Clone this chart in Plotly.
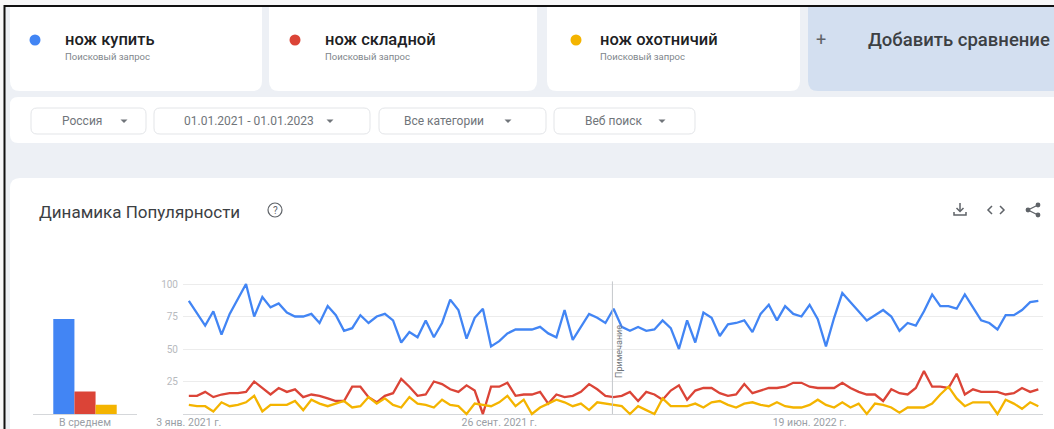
import numpy as np
import pandas as pd
import plotly.graph_objects as go

W, H = 1054, 429

# Weekly interest, 3 Jan 2021 .. 1 Jan 2023 (Россия, веб-поиск)
week_start = "2021-01-03"
n_weeks = 105

kupit = [87, 78, 68, 79, 61, 77, 88, 100, 75, 90,
         82, 85, 78, 75, 75, 77, 70, 83, 76, 64,
         66, 76, 70, 75, 77, 72, 55, 63, 59, 72,
         59, 70, 88, 80, 58, 74, 81, 52, 56, 62,
         65, 65, 65, 67, 62, 59, 80, 57, 67, 77,
         74, 70, 81, 67, 64, 67, 64, 65, 72, 66,
         50, 72, 55, 78, 74, 60, 69, 70, 72, 63,
         77, 84, 72, 83, 77, 75, 84, 73, 52, 74,
         93, 86, 79, 72, 76, 80, 75, 64, 70, 68,
         79, 92, 83, 83, 81, 92, 82, 72, 70, 65,
         76, 76, 80, 86, 87]

skladnoy = [14, 14, 17, 13, 15, 16, 16, 17, 25, 20,
            15, 20, 17, 19, 13, 15, 14, 12, 10, 10,
            21, 21, 13, 9, 14, 16, 27, 21, 14, 15,
            25, 23, 19, 17, 22, 18, 0, 21, 21, 24,
            14, 15, 15, 17, 8, 15, 13, 14, 17, 23,
            19, 14, 13, 14, 17, 10, 17, 15, 11, 18,
            22, 11, 18, 20, 20, 16, 14, 15, 23, 16,
            18, 20, 20, 21, 24, 24, 21, 20, 20, 20,
            24, 20, 17, 15, 15, 10, 19, 16, 15, 20,
            33, 21, 21, 20, 31, 15, 19, 17, 17, 17,
            15, 16, 20, 17, 19]

okhotnichiy = [7, 6, 6, 2, 9, 6, 7, 9, 14, 2,
               7, 7, 7, 10, 3, 11, 8, 6, 8, 10,
               5, 6, 13, 8, 12, 7, 5, 13, 8, 7,
               5, 11, 7, 6, 0, 8, 7, 6, 9, 14,
               6, 11, 0, 5, 8, 11, 9, 6, 8, 3,
               9, 8, 7, 6, 0, 6, 3, 0, 12, 6,
               6, 6, 8, 5, 9, 10, 7, 5, 8, 9,
               7, 6, 9, 6, 5, 5, 7, 11, 7, 5,
               9, 5, 8, 0, 8, 7, 5, 1, 5, 5,
               5, 8, 15, 21, 12, 6, 9, 9, 9, 0,
               11, 8, 4, 9, 6]

terms = ["нож купить", "нож складной", "нож охотничий"]
term_colors = ["#4285f4", "#db4437", "#f4b400"]
term_values = [kupit, skladnoy, okhotnichiy]

y_tick_vals = [25, 50, 75, 100]
x_tick_dates = ["2021-01-03", "2021-09-26", "2022-06-19"]
x_tick_text = ["3 янв. 2021 г.", "26 сент. 2021 г.", "19 июн. 2022 г."]
avg_label = "В среднем"
note_date = "2022-01-01"
note_text = "Примечание"

filters = ["Россия", "01.01.2021 - 01.01.2023", "Все категории", "Веб поиск"]

FONT = "Roboto, Arial, sans-serif"
PAGE_BG = "#edf0f5"
TEXT_DARK = "#202124"
TEXT_GREY = "#80868b"
ICON = "#5f6368"

weeks = pd.date_range(week_start, periods=n_weeks, freq="7D")


def px(x):
    return x / W


def py(y):
    return 1 - y / H


def rrect(x0, y0, x1, y1, r, fill, line=None, lw=0):
    p = lambda x, y: f"{px(x):.5f},{py(y):.5f}"
    path = (f"M {p(x0 + r, y0)} L {p(x1 - r, y0)} Q {p(x1, y0)} {p(x1, y0 + r)} "
            f"L {p(x1, y1 - r)} Q {p(x1, y1)} {p(x1 - r, y1)} "
            f"L {p(x0 + r, y1)} Q {p(x0, y1)} {p(x0, y1 - r)} "
            f"L {p(x0, y0 + r)} Q {p(x0, y0)} {p(x0 + r, y0)} Z")
    return dict(type="path", path=path, xref="paper", yref="paper",
                fillcolor=fill, line=dict(color=line or fill, width=lw),
                layer="below")


def pline(points, color=ICON, width=1.5):
    d = "M " + " L ".join(f"{px(x):.5f},{py(y):.5f}" for x, y in points)
    return dict(type="path", path=d, xref="paper", yref="paper",
                line=dict(color=color, width=width), layer="above")


def tri(cx, cy, color="#70757a"):
    d = (f"M {px(cx - 3.5):.5f},{py(cy - 1.5):.5f} L {px(cx + 3.5):.5f},{py(cy - 1.5):.5f} "
         f"L {px(cx):.5f},{py(cy + 2):.5f} Z")
    return dict(type="path", path=d, xref="paper", yref="paper",
                fillcolor=color, line=dict(color=color, width=0), layer="above")


def circle(cx, cy, r, fill=None, line=None, lw=1.2):
    return dict(type="circle", xref="paper", yref="paper",
                x0=px(cx - r), x1=px(cx + r), y0=py(cy + r), y1=py(cy - r),
                fillcolor=fill or "rgba(0,0,0,0)",
                line=dict(color=line or fill or ICON, width=lw if line else 0),
                layer="above")


def label(x, y, text, size, color, anchor="left", weight=None, angle=0):
    f = dict(family=FONT, size=size, color=color)
    if weight:
        f["weight"] = weight
    return dict(x=px(x), y=py(y), xref="paper", yref="paper", text=text,
                showarrow=False, xanchor=anchor, yanchor="middle", font=f,
                textangle=angle)


fig = go.Figure()

# weekly lines
for name, color, vals in zip(terms, term_colors, term_values):
    fig.add_trace(go.Scatter(x=weeks, y=vals, mode="lines", name=name,
                             line=dict(color=color, width=2.3),
                             xaxis="x", yaxis="y", hoverinfo="skip"))

# average bars
for name, color, vals in zip(terms, term_colors, term_values):
    fig.add_trace(go.Bar(x=[avg_label], y=[float(np.mean(vals))], name=name,
                         marker=dict(color=color, line=dict(width=0)),
                         xaxis="x2", yaxis="y2", hoverinfo="skip"))

shapes = []
annotations = []

# term cards
cards = [(10, 262), (269, 537), (547, 800)]
dot_x = [35, 295, 576]
text_x = [63, 323, 598]
for (x0, x1), dx, tx, name, color in zip(cards, dot_x, text_x, terms, term_colors):
    shapes.append(rrect(x0, -10, x1, 91, 10, "#ffffff"))
    shapes.append(circle(dx, 40, 5.5, fill=color))
    annotations.append(label(tx, 39, name, 16.5, TEXT_DARK, weight=500))
    annotations.append(label(tx, 56, "Поисковый запрос", 9.5, TEXT_GREY))
shapes.append(rrect(808, -10, 1070, 91, 10, "#d3dff0"))
annotations.append(label(814, 40, "+", 18, ICON))
annotations.append(label(866, 40, "Добавить сравнение", 18.5, "#3c4043", weight=500))

# filter bar
shapes.append(rrect(10, 97, 1070, 143, 8, "#ffffff"))
pills = [(31, 146), (154, 370), (379, 546), (554, 695)]
pill_text_x = [60, 182, 402, 583]
pill_arrow_x = [124, 330, 508, 662]
for (x0, x1), tx, ax, txt in zip(pills, pill_text_x, pill_arrow_x, filters):
    shapes.append(rrect(x0, 108, x1, 134, 6, "#ffffff", "#e3e5e8", 1))
    annotations.append(label(tx, 121, txt, 12, "#70757a"))
    shapes.append(tri(ax, 121))

# chart card
shapes.append(rrect(10, 178, 1070, 460, 10, "#ffffff"))
annotations.append(label(37, 212, "Динамика Популярности", 17, "#3c4043"))
shapes.append(circle(275, 210, 7, line=ICON, lw=1.2))
annotations.append(label(275, 210.5, "?", 10, ICON, anchor="center"))

# download icon
shapes.append(pline([(960, 203), (960, 211)]))
shapes.append(pline([(956.5, 208), (960, 211.5), (963.5, 208)]))
shapes.append(pline([(954, 212), (954, 215), (966, 215), (966, 212)]))
# embed icon
shapes.append(pline([(992, 206), (988, 210), (992, 214)]))
shapes.append(pline([(1000, 206), (1004, 210), (1000, 214)]))
# share icon
shapes.append(pline([(1038, 205), (1028, 210), (1038, 215)], width=1.3))
shapes.append(circle(1038, 205, 2.4, fill=ICON))
shapes.append(circle(1028, 210, 2.4, fill=ICON))
shapes.append(circle(1038, 215, 2.4, fill=ICON))

# note marker
shapes.append(dict(type="line", xref="x", yref="y", x0=note_date, x1=note_date,
                   y0=0, y1=102, line=dict(color="#c4c7cb", width=1), layer="above"))
annotations.append(dict(x=note_date, y=48, xref="x", yref="y", text=note_text,
                        showarrow=False, textangle=-90, xshift=6,
                        font=dict(family=FONT, size=9, color="#70757a")))

# page frame
shapes.append(dict(type="rect", xref="paper", yref="paper", x0=0, x1=1,
                   y0=py(5), y1=1, fillcolor="#f7f7f8", line=dict(width=0), layer="below"))
shapes.append(dict(type="rect", xref="paper", yref="paper", x0=0, x1=px(4),
                   y0=0, y1=1, fillcolor="#f7f7f8", line=dict(width=0), layer="below"))
shapes.append(dict(type="line", xref="paper", yref="paper", x0=px(4), x1=1,
                   y0=py(6), y1=py(6), line=dict(color="#111111", width=2), layer="above"))
shapes.append(dict(type="line", xref="paper", yref="paper", x0=px(4.5), x1=px(4.5),
                   y0=0, y1=py(5), line=dict(color="#111111", width=2), layer="above"))

y_dom = [py(416.6), py(277.5)]
axis_font = dict(family=FONT, size=10.5, color="#9aa0a6")

fig.update_layout(
    width=W, height=H,
    margin=dict(l=0, r=0, t=0, b=0, autoexpand=False),
    paper_bgcolor=PAGE_BG,
    plot_bgcolor="rgba(0,0,0,0)",
    showlegend=False,
    barmode="group",
    bargap=0.39,
    bargroupgap=0,
    shapes=shapes,
    annotations=annotations,
    xaxis=dict(domain=[px(183), px(1043)], type="date",
               range=["2020-12-29", "2023-01-05"],
               tickvals=x_tick_dates, ticktext=x_tick_text,
               showgrid=False, zeroline=False, showline=False, ticks="",
               tickfont=axis_font, anchor="y", fixedrange=True,
               ticklabelstandoff=-2),
    yaxis=dict(domain=y_dom, range=[-2, 105], tickvals=y_tick_vals,
               showgrid=True, gridcolor="#ececec", gridwidth=1,
               zeroline=True, zerolinecolor="#d5d7da", zerolinewidth=1,
               showline=False, ticks="",
               tickfont=dict(family=FONT, size=10, color="#b7babe"),
               ticklabelstandoff=4,
               anchor="x", fixedrange=True),
    xaxis2=dict(domain=[px(33), px(137)], type="category",
                showgrid=False, zeroline=False, showline=False, ticks="",
                tickfont=axis_font, anchor="y2", fixedrange=True,
                ticklabelstandoff=-2),
    yaxis2=dict(domain=y_dom, range=[-2, 105], showticklabels=False,
                showgrid=False, zeroline=True, zerolinecolor="#d5d7da",
                zerolinewidth=1, anchor="x2", fixedrange=True),
)

fig.write_html("out.html")
